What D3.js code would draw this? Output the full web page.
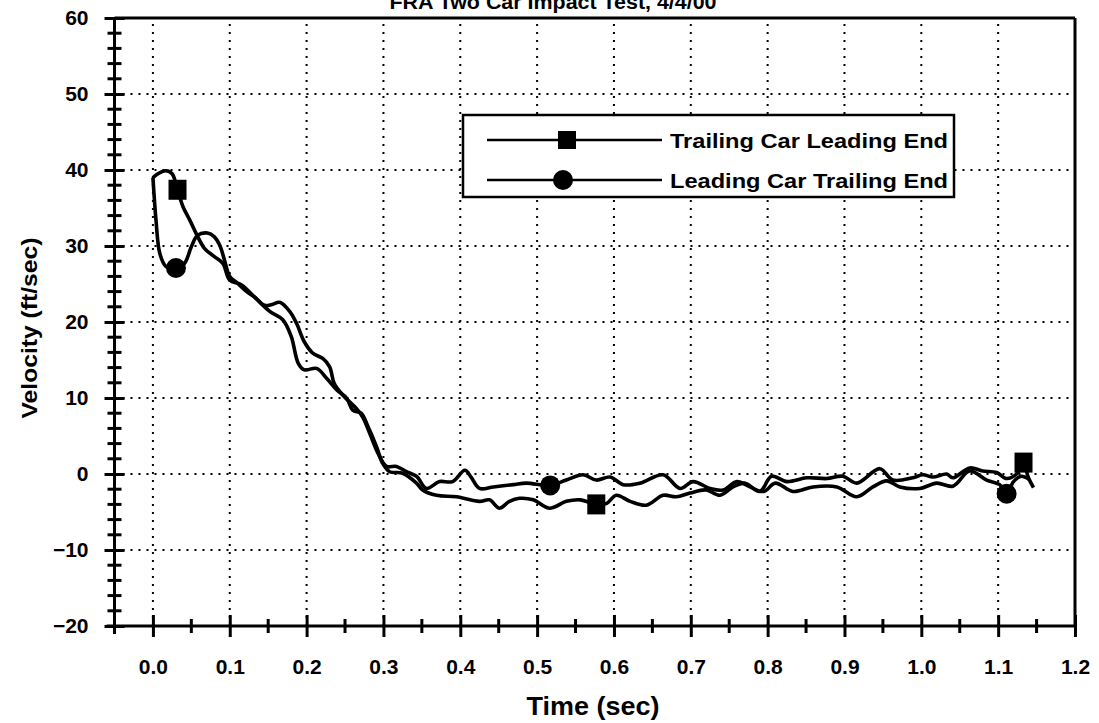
<!DOCTYPE html>
<html>
<head>
<meta charset="utf-8">
<script src="https://cdn.jsdelivr.net/npm/d3@7"></script>
<style>
  body { margin: 0; background: #fff; }
  svg { display: block; font-family: "Liberation Sans", Arial, sans-serif; font-weight: bold; }
</style>
</head>
<body>
<svg id="chart" width="1099" height="723"></svg>
<script>
// ---- data ----
var xTicks = [0.0, 0.1, 0.2, 0.3, 0.4, 0.5, 0.6, 0.7, 0.8, 0.9, 1.0, 1.1, 1.2];
var yTicks = [-20, -10, 0, 10, 20, 30, 40, 50, 60];

// Trailing Car Leading End (square markers)
var trailingT = [0.000, 0.008, 0.017, 0.025, 0.032, 0.039, 0.048, 0.056, 0.067, 0.080, 0.091, 0.100, 0.115,
  0.132, 0.152, 0.169, 0.180, 0.189, 0.197, 0.213, 0.226, 0.239, 0.252, 0.260, 0.271, 0.280, 0.291, 0.299,
  0.308, 0.325, 0.343, 0.351, 0.369, 0.395, 0.425, 0.438, 0.451, 0.464, 0.477, 0.495, 0.516, 0.538, 0.556,
  0.577, 0.590, 0.603, 0.621, 0.642, 0.664, 0.681, 0.699, 0.720, 0.738, 0.755, 0.770, 0.790, 0.805, 0.825,
  0.851, 0.877, 0.898, 0.916, 0.946, 0.963, 0.989, 1.002, 1.015, 1.033, 1.041, 1.063, 1.080, 1.098, 1.111,
  1.124, 1.133, 1.139, 1.146];
var trailingV = [39.0, 39.6, 39.9, 39.5, 37.4, 35.2, 33.4, 31.7, 29.7, 28.6, 27.7, 25.5, 24.9,
  23.3, 21.4, 20.3, 18.1, 14.6, 13.7, 13.9, 12.6, 11.1, 10.0, 8.4, 8.0, 6.2, 3.6, 1.4,
  0.3, 0.1, -1.2, -2.1, -2.8, -3.0, -3.6, -3.4, -4.5, -3.6, -3.2, -3.4, -4.5, -3.6, -3.4,
  -4.0, -3.9, -2.8, -3.6, -4.1, -2.8, -3.0, -2.5, -2.1, -2.8, -1.7, -1.2, -2.3, -0.3, -1.0,
  -0.5, -0.6, -0.3, -1.2, 0.7, -0.8, -0.5, -0.1, -0.4, 0.0, -0.5, 0.8, 0.4, 0.2, -0.6,
  0.0, 1.5, -0.4, -1.8];
var trailingMarkT = [0.032, 0.577, 1.133];
var trailingMarkV = [37.4, -4.0, 1.5];

// Leading Car Trailing End (circle markers)
var leadingT = [0.000, 0.002, 0.004, 0.009, 0.017, 0.030, 0.041, 0.050, 0.058, 0.071, 0.080, 0.087, 0.093,
  0.100, 0.110, 0.122, 0.132, 0.145, 0.155, 0.165, 0.178, 0.187, 0.197, 0.208, 0.221, 0.230, 0.236, 0.247,
  0.265, 0.273, 0.282, 0.293, 0.304, 0.317, 0.330, 0.343, 0.356, 0.373, 0.390, 0.406, 0.414, 0.425, 0.443,
  0.469, 0.486, 0.517, 0.538, 0.560, 0.577, 0.595, 0.612, 0.634, 0.664, 0.686, 0.703, 0.725, 0.742, 0.760,
  0.777, 0.795, 0.810, 0.833, 0.859, 0.890, 0.916, 0.937, 0.955, 0.972, 0.998, 1.020, 1.041, 1.063, 1.085,
  1.102, 1.111, 1.120, 1.130, 1.140];
var leadingV = [39.0, 36.0, 33.4, 29.0, 27.3, 27.1, 27.7, 29.9, 31.4, 31.7, 31.2, 30.1, 28.2,
  26.0, 25.1, 24.0, 23.3, 22.2, 22.3, 22.6, 21.4, 19.8, 17.4, 15.9, 15.2, 14.1, 11.9, 10.4,
  8.6, 7.5, 5.4, 2.7, 1.0, 1.0, 0.3, -0.3, -1.9, -1.0, -1.0, 0.5, -0.4, -1.9, -1.7,
  -1.4, -1.2, -1.5, -0.8, -0.1, -0.8, -0.4, -1.4, -1.2, -0.1, -1.9, -1.0, -1.9, -2.1, -1.0,
  -1.7, -2.3, -1.2, -2.3, -1.7, -1.7, -3.0, -1.7, -0.9, -1.7, -1.9, -1.2, -1.6, 0.4, -0.8,
  -1.4, -2.6, -1.0, -0.3, -0.7];
var leadingMarkT = [0.030, 0.517, 1.111];
var leadingMarkV = [27.1, -1.5, -2.6];

var seriesNames = ["Trailing Car Leading End", "Leading Car Trailing End"];

// ---- layout ----
var svg = d3.select("#chart");
var plotLeft = 114.5, plotRight = 1075, plotTop = 18, plotBottom = 626;

var x = d3.scaleLinear().domain([-0.05, 1.2]).range([plotLeft, plotRight]);
var y = d3.scaleLinear().domain([-20, 60]).range([plotBottom, plotTop]);

// gridlines (dotted)
var grid = svg.append("g").attr("class", "grid");
grid.selectAll("line.v").data(xTicks.filter(d => d < 1.2)).enter().append("line")
  .attr("class", "v")
  .attr("x1", d => x(d)).attr("x2", d => x(d))
  .attr("y1", plotBottom).attr("y2", plotTop)
  .attr("stroke", "#000").attr("stroke-width", 2)
  .attr("stroke-dasharray", "2,6");
grid.selectAll("line.h").data(yTicks.filter(d => d > -20 && d < 60)).enter().append("line")
  .attr("class", "h")
  .attr("x1", plotLeft).attr("x2", plotRight)
  .attr("y1", d => y(d)).attr("y2", d => y(d))
  .attr("stroke", "#000").attr("stroke-width", 2)
  .attr("stroke-dasharray", "2,6");

// frame top & right
svg.append("line").attr("x1", plotLeft).attr("x2", plotRight).attr("y1", plotTop).attr("y2", plotTop)
  .attr("stroke", "#000").attr("stroke-width", 3);
svg.append("line").attr("x1", plotRight).attr("x2", plotRight).attr("y1", plotTop).attr("y2", plotBottom)
  .attr("stroke", "#000").attr("stroke-width", 3);

// minor ticks
var xMinor = d3.range(-0.05, 1.2, 0.05).map(d => +d.toFixed(2)).filter(d => xTicks.indexOf(d) < 0);
var yMinor = d3.range(-20, 60, 2).filter(d => d % 10 !== 0);

// x axis
var xAxis = svg.append("g").attr("transform", "translate(0," + plotBottom + ")")
  .call(d3.axisBottom(x).tickValues(xTicks).tickFormat(d3.format(".1f")).tickSize(11).tickPadding(22));
xAxis.select(".domain").attr("stroke-width", 3).attr("d", "M" + (plotLeft - 8) + ",0H" + plotRight);
xAxis.selectAll(".tick line").attr("y1", -11).attr("stroke-width", 3);
xAxis.selectAll(".tick text").attr("font-size", 21).attr("font-family", "Liberation Sans, Arial")
  .attr("font-weight", "bold").attr("dy", "0.71em");
xAxis.selectAll(".minor").data(xMinor).enter().append("line").attr("class", "minor")
  .attr("x1", d => x(d)).attr("x2", d => x(d)).attr("y1", -7).attr("y2", 7)
  .attr("stroke", "#000").attr("stroke-width", 3);

// y axis
var yAxis = svg.append("g").attr("transform", "translate(" + plotLeft + ",0)")
  .call(d3.axisLeft(y).tickValues(yTicks).tickSize(10).tickPadding(16));
yAxis.select(".domain").attr("stroke-width", 3).attr("d", "M0," + plotTop + "V" + (plotBottom + 8));
yAxis.selectAll(".tick line").attr("x1", 10).attr("stroke-width", 3);
yAxis.selectAll(".tick text").attr("font-size", 21).attr("font-family", "Liberation Sans, Arial")
  .attr("font-weight", "bold");
yAxis.selectAll(".minor").data(yMinor).enter().append("line").attr("class", "minor")
  .attr("x1", -7).attr("x2", 7).attr("y1", d => y(d)).attr("y2", d => y(d))
  .attr("stroke", "#000").attr("stroke-width", 3);

// series lines
var line = d3.line().x(d => x(d[0])).y(d => y(d[1])).curve(d3.curveCatmullRom.alpha(0.5));
var trailingPts = d3.zip(trailingT, trailingV);
var leadingPts = d3.zip(leadingT, leadingV);

svg.append("path").datum(trailingPts).attr("d", line)
  .attr("fill", "none").attr("stroke", "#000").attr("stroke-width", 3.6).attr("stroke-linejoin", "round");
svg.append("path").datum(leadingPts).attr("d", line)
  .attr("fill", "none").attr("stroke", "#000").attr("stroke-width", 3.6).attr("stroke-linejoin", "round");

// markers
svg.selectAll("rect.mk").data(d3.zip(trailingMarkT, trailingMarkV)).enter().append("rect")
  .attr("class", "mk")
  .attr("x", d => x(d[0]) - 9).attr("y", d => y(d[1]) - 10)
  .attr("width", 18).attr("height", 20).attr("fill", "#000");
svg.selectAll("circle.mk").data(d3.zip(leadingMarkT, leadingMarkV)).enter().append("circle")
  .attr("class", "mk")
  .attr("cx", d => x(d[0])).attr("cy", d => y(d[1])).attr("r", 10).attr("fill", "#000");

// legend
var lg = svg.append("g");
lg.append("rect").attr("x", 463).attr("y", 115).attr("width", 491).attr("height", 82)
  .attr("fill", "#fff").attr("stroke", "#000").attr("stroke-width", 2.5);
var rowsY = [140, 180];
lg.selectAll("line.lg").data(seriesNames).enter().append("line")
  .attr("class", "lg")
  .attr("x1", 487).attr("x2", 662).attr("y1", (d, i) => rowsY[i]).attr("y2", (d, i) => rowsY[i])
  .attr("stroke", "#000").attr("stroke-width", 2.5);
lg.append("rect").attr("x", 558).attr("y", rowsY[0] - 9).attr("width", 18).attr("height", 18).attr("fill", "#000");
lg.append("circle").attr("cx", 563).attr("cy", rowsY[1]).attr("r", 10).attr("fill", "#000");
lg.selectAll("text").data(seriesNames).enter().append("text")
  .attr("x", 670).attr("y", (d, i) => rowsY[i] + 7.5)
  .attr("font-size", 21).attr("textLength", 278).attr("lengthAdjust", "spacingAndGlyphs")
  .text(d => d);

// titles
svg.append("text").attr("x", 553).attr("y", 9).attr("text-anchor", "middle")
  .attr("font-size", 20).attr("textLength", 327).attr("lengthAdjust", "spacingAndGlyphs")
  .text("FRA Two Car Impact Test, 4/4/00");
svg.append("text").attr("x", 593).attr("y", 715).attr("text-anchor", "middle")
  .attr("font-size", 25).attr("textLength", 133).attr("lengthAdjust", "spacingAndGlyphs")
  .text("Time (sec)");
svg.append("text").attr("transform", "translate(37,328) rotate(-90)").attr("text-anchor", "middle")
  .attr("font-size", 22).attr("textLength", 181).attr("lengthAdjust", "spacingAndGlyphs")
  .text("Velocity (ft/sec)");
</script>
</body>
</html>
